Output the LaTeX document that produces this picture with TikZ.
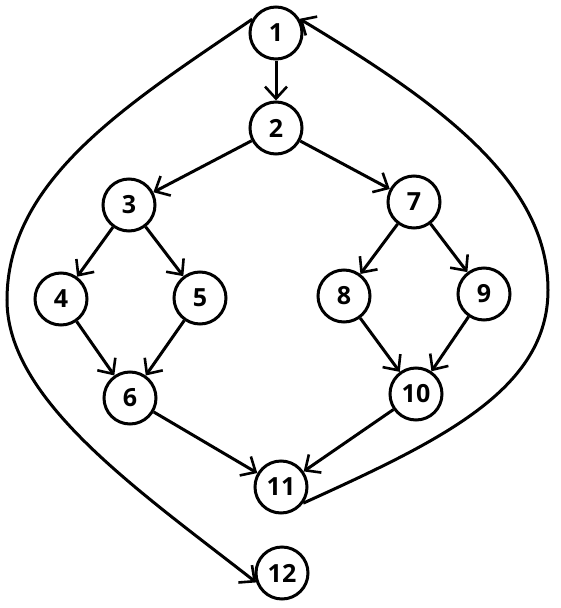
\documentclass[tikz,border=0pt]{standalone}
\usepackage{fontspec}
\setsansfont{Open Sans}
\usetikzlibrary{arrows.meta}

\begin{document}
\begin{tikzpicture}[x=1pt,y=-1pt,line width=3pt,
    vertex/.style={draw,circle,minimum size=52pt,inner sep=0pt,
      font=\sffamily\bfseries\fontsize{25}{25}\selectfont},
    flow/.style={-{Straight Barb[length=12pt,width=22pt,line width=2.6pt]}}]
  \useasboundingbox (0,0) rectangle (560,608);
  % nodes
  \node[vertex] (n1) at (276,33) {1};
  \node[vertex] (n2) at (276,128) {2};
  \node[vertex] (n3) at (129,205) {3};
  \node[vertex] (n4) at (61,299) {4};
  \node[vertex] (n5) at (200,298) {5};
  \node[vertex] (n6) at (130,398) {6};
  \node[vertex] (n7) at (414,202) {7};
  \node[vertex] (n8) at (344,296) {8};
  \node[vertex] (n9) at (484,294) {9};
  \node[vertex] (n10) at (416,394) {10};
  \node[vertex] (n11) at (281,487) {11};
  \node[vertex] (n12) at (282,573) {12};
  % edges
  \draw[flow] (n1) -- (n2);
  \draw[flow] (n2) -- (n3); \draw[flow] (n2) -- (n7);
  \draw[flow] (n3) -- (n4); \draw[flow] (n3) -- (n5);
  \draw[flow] (n4) -- (n6); \draw[flow] (n5) -- (n6);
  \draw[flow] (n7) -- (n8); \draw[flow] (n7) -- (n9);
  \draw[flow] (n8) -- (n10); \draw[flow] (n9) -- (n10);
  \draw[flow] (n6) -- (n11); \draw[flow] (n10) -- (n11);
  % the two big arcs, each bending at its outermost point
  \coordinate (lbend) at (7,300);
  \coordinate (rbend) at (548,290);
  \draw[flow] (n1.150) .. controls (126,105) and (7,180) .. (lbend)
    .. controls (7,400) and (138,490) .. (n12.200);
  \draw[flow] (n11.324) .. controls (440,441) and (548,390) .. (rbend)
    .. controls (548,180) and (436,101) .. (n1.31);
\end{tikzpicture}
\end{document}
